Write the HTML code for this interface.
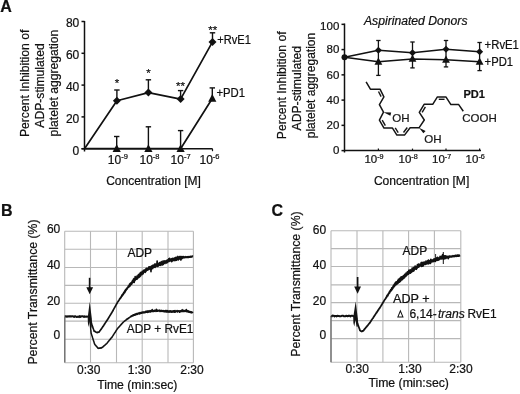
<!DOCTYPE html>
<html><head><meta charset="utf-8"><style>
html,body{margin:0;padding:0;background:#fff;}
svg{display:block;font-family:"Liberation Sans", sans-serif;filter:grayscale(1);}
svg text{stroke:#111;stroke-width:0.22px;}
</style></head><body>
<svg width="520" height="394" viewBox="0 0 520 394">
<text x="0.2" y="11.7" font-size="16" font-weight="bold" fill="#111">A</text>
<text x="1.0" y="215.8" font-size="16" font-weight="bold" fill="#111">B</text>
<text x="271.6" y="215.6" font-size="16" font-weight="bold" fill="#111">C</text>
<line x1="84.5" y1="21" x2="84.5" y2="151.5" stroke="#111" stroke-width="1.5"/>
<line x1="81.5" y1="148.7" x2="212.5" y2="148.7" stroke="#111" stroke-width="1.5"/>
<line x1="81.5" y1="148.7" x2="84.5" y2="148.7" stroke="#111" stroke-width="1.5"/>
<text x="79.3" y="154.5" font-size="12" text-anchor="end" fill="#111">0</text>
<line x1="81.5" y1="116.89" x2="84.5" y2="116.89" stroke="#111" stroke-width="1.5"/>
<text x="79.3" y="122.69" font-size="12" text-anchor="end" fill="#111">20</text>
<line x1="81.5" y1="85.1" x2="84.5" y2="85.1" stroke="#111" stroke-width="1.5"/>
<text x="79.3" y="90.89" font-size="12" text-anchor="end" fill="#111">40</text>
<line x1="81.5" y1="53.29" x2="84.5" y2="53.29" stroke="#111" stroke-width="1.5"/>
<text x="79.3" y="59.09" font-size="12" text-anchor="end" fill="#111">60</text>
<line x1="81.5" y1="21.49" x2="84.5" y2="21.49" stroke="#111" stroke-width="1.5"/>
<text x="79.3" y="27.29" font-size="12" text-anchor="end" fill="#111">80</text>
<line x1="116.7" y1="148.7" x2="116.7" y2="151.2" stroke="#111" stroke-width="1.2"/>
<line x1="148.4" y1="148.7" x2="148.4" y2="151.2" stroke="#111" stroke-width="1.2"/>
<line x1="180.6" y1="148.7" x2="180.6" y2="151.2" stroke="#111" stroke-width="1.2"/>
<line x1="212.5" y1="148.7" x2="212.5" y2="151.2" stroke="#111" stroke-width="1.2"/>
<text x="107.8" y="164.0" font-size="12" fill="#111">10<tspan font-size="7.5" dy="-4.8">-9</tspan></text>
<text x="139.5" y="164.0" font-size="12" fill="#111">10<tspan font-size="7.5" dy="-4.8">-8</tspan></text>
<text x="170.6" y="164.0" font-size="12" fill="#111">10<tspan font-size="7.5" dy="-4.8">-7</tspan></text>
<text x="199.5" y="164.0" font-size="12" fill="#111">10<tspan font-size="7.5" dy="-4.8">-6</tspan></text>
<text x="153.5" y="184.9" font-size="12" text-anchor="middle" fill="#111">Concentration [M]</text>
<text x="0" y="0" font-size="12" text-anchor="middle" textLength="107.4" lengthAdjust="spacingAndGlyphs" fill="#111" transform="translate(29,83.4) rotate(-90)">Percent Inhibition of</text>
<text x="0" y="0" font-size="12" text-anchor="middle" textLength="84.4" lengthAdjust="spacingAndGlyphs" fill="#111" transform="translate(44.2,85.5) rotate(-90)">ADP-stimulated</text>
<text x="0" y="0" font-size="12" text-anchor="middle" textLength="106.7" lengthAdjust="spacingAndGlyphs" fill="#111" transform="translate(57.5,83.05) rotate(-90)">platelet aggregation</text>
<polyline points="84.50,148.70 116.90,100.70 148.40,92.60 180.60,99.10 212.50,41.90" fill="none" stroke="#111" stroke-width="1.7" stroke-linejoin="round"/>
<line x1="116.9" y1="90" x2="116.9" y2="100.7" stroke="#111" stroke-width="1.4"/>
<line x1="114.2" y1="90" x2="119.60" y2="90" stroke="#111" stroke-width="1.4"/>
<line x1="148.4" y1="79.8" x2="148.4" y2="92.6" stroke="#111" stroke-width="1.4"/>
<line x1="145.70" y1="79.8" x2="151.1" y2="79.8" stroke="#111" stroke-width="1.4"/>
<line x1="180.6" y1="90.6" x2="180.6" y2="99.1" stroke="#111" stroke-width="1.4"/>
<line x1="177.9" y1="90.6" x2="183.29" y2="90.6" stroke="#111" stroke-width="1.4"/>
<line x1="212.5" y1="32.8" x2="212.5" y2="41.9" stroke="#111" stroke-width="1.4"/>
<line x1="209.8" y1="32.8" x2="215.2" y2="32.8" stroke="#111" stroke-width="1.4"/>
<polygon points="116.9,96.7 120.9,100.7 116.9,104.7 112.9,100.7" fill="#111"/>
<polygon points="148.4,88.6 152.4,92.6 148.4,96.6 144.4,92.6" fill="#111"/>
<polygon points="180.6,95.1 184.6,99.1 180.6,103.1 176.6,99.1" fill="#111"/>
<polygon points="212.5,37.9 216.5,41.9 212.5,45.9 208.5,41.9" fill="#111"/>
<polyline points="84.50,148.70 116.70,148.70 148.40,148.70 180.60,148.70 212.30,98.50" fill="none" stroke="#111" stroke-width="1.7" stroke-linejoin="round"/>
<line x1="116.7" y1="136.5" x2="116.7" y2="148.7" stroke="#111" stroke-width="1.4"/>
<line x1="114.0" y1="136.5" x2="119.4" y2="136.5" stroke="#111" stroke-width="1.4"/>
<line x1="148.4" y1="126.8" x2="148.4" y2="148.7" stroke="#111" stroke-width="1.4"/>
<line x1="145.70" y1="126.8" x2="151.1" y2="126.8" stroke="#111" stroke-width="1.4"/>
<line x1="180.6" y1="130.6" x2="180.6" y2="148.7" stroke="#111" stroke-width="1.4"/>
<line x1="177.9" y1="130.6" x2="183.29" y2="130.6" stroke="#111" stroke-width="1.4"/>
<line x1="212.3" y1="87.9" x2="212.3" y2="98.5" stroke="#111" stroke-width="1.4"/>
<line x1="209.60" y1="87.9" x2="215.0" y2="87.9" stroke="#111" stroke-width="1.4"/>
<polygon points="116.7,144.29 120.8,151.88 112.60,151.88" fill="#111"/>
<polygon points="148.4,144.29 152.5,151.88 144.3,151.88" fill="#111"/>
<polygon points="180.6,144.29 184.7,151.88 176.5,151.88" fill="#111"/>
<polygon points="212.3,94.10 216.4,101.68 208.20,101.68" fill="#111"/>
<text x="117.1" y="87.0" font-size="11.5" text-anchor="middle" fill="#111">*</text>
<text x="148.4" y="76.9" font-size="11.5" text-anchor="middle" fill="#111">*</text>
<text x="180.6" y="89.7" font-size="11.5" text-anchor="middle" fill="#111">**</text>
<text x="212.7" y="33.7" font-size="11.5" text-anchor="middle" fill="#111">**</text>
<text x="217.3" y="44.2" font-size="12" textLength="33.6" lengthAdjust="spacingAndGlyphs" fill="#111">+RvE1</text>
<text x="216.4" y="97.3" font-size="12" textLength="28.6" lengthAdjust="spacingAndGlyphs" fill="#111">+PD1</text>
<line x1="344.5" y1="23.5" x2="344.5" y2="152.5" stroke="#111" stroke-width="1.5"/>
<line x1="344.5" y1="150.6" x2="481" y2="150.6" stroke="#111" stroke-width="1.5"/>
<line x1="341.5" y1="150.6" x2="344.5" y2="150.6" stroke="#111" stroke-width="1.5"/>
<text x="339.3" y="154.29" font-size="11.5" text-anchor="end" fill="#111">0</text>
<line x1="341.5" y1="125.35" x2="344.5" y2="125.35" stroke="#111" stroke-width="1.5"/>
<text x="339.3" y="129.04" font-size="11.5" text-anchor="end" fill="#111">20</text>
<line x1="341.5" y1="100.1" x2="344.5" y2="100.1" stroke="#111" stroke-width="1.5"/>
<text x="339.3" y="103.8" font-size="11.5" text-anchor="end" fill="#111">40</text>
<line x1="341.5" y1="74.85" x2="344.5" y2="74.85" stroke="#111" stroke-width="1.5"/>
<text x="339.3" y="78.55" font-size="11.5" text-anchor="end" fill="#111">60</text>
<line x1="341.5" y1="49.59" x2="344.5" y2="49.59" stroke="#111" stroke-width="1.5"/>
<text x="339.3" y="53.3" font-size="11.5" text-anchor="end" fill="#111">80</text>
<line x1="341.5" y1="24.34" x2="344.5" y2="24.34" stroke="#111" stroke-width="1.5"/>
<text x="339.3" y="30.2" font-size="11.5" text-anchor="end" fill="#111">100</text>
<line x1="378.4" y1="148.6" x2="378.4" y2="150.6" stroke="#111" stroke-width="1.2"/>
<line x1="412.5" y1="148.6" x2="412.5" y2="150.6" stroke="#111" stroke-width="1.2"/>
<line x1="446.0" y1="148.6" x2="446.0" y2="150.6" stroke="#111" stroke-width="1.2"/>
<line x1="479.6" y1="148.6" x2="479.6" y2="150.6" stroke="#111" stroke-width="1.2"/>
<text x="364.4" y="163.3" font-size="11.5" fill="#111">10<tspan font-size="7.2" dy="-4.6">-9</tspan></text>
<text x="398.5" y="163.3" font-size="11.5" fill="#111">10<tspan font-size="7.2" dy="-4.6">-8</tspan></text>
<text x="432.0" y="163.3" font-size="11.5" fill="#111">10<tspan font-size="7.2" dy="-4.6">-7</tspan></text>
<text x="465.6" y="163.3" font-size="11.5" fill="#111">10<tspan font-size="7.2" dy="-4.6">-6</tspan></text>
<text x="421.6" y="184.8" font-size="12" text-anchor="middle" textLength="95.4" lengthAdjust="spacingAndGlyphs" fill="#111">Concentration [M]</text>
<text x="0" y="0" font-size="12" text-anchor="middle" textLength="108" lengthAdjust="spacingAndGlyphs" fill="#111" transform="translate(285.6,85.25) rotate(-90)">Percent Inhibition of</text>
<text x="0" y="0" font-size="12" text-anchor="middle" textLength="84.5" lengthAdjust="spacingAndGlyphs" fill="#111" transform="translate(300.6,88.15) rotate(-90)">ADP-stimulated</text>
<text x="0" y="0" font-size="12" text-anchor="middle" textLength="105.5" lengthAdjust="spacingAndGlyphs" fill="#111" transform="translate(315.4,85.55) rotate(-90)">platelet aggregation</text>
<text x="364.0" y="25.2" font-size="12" font-style="italic" textLength="103.5" lengthAdjust="spacingAndGlyphs" fill="#111">Aspirinated Donors</text>
<polyline points="344.50,57.30 378.40,50.20 412.50,52.70 446.00,49.20 479.60,51.70" fill="none" stroke="#111" stroke-width="1.5" stroke-linejoin="round"/>
<polyline points="344.50,57.30 378.40,61.80 412.50,58.90 446.00,59.80 479.60,61.80" fill="none" stroke="#111" stroke-width="1.5" stroke-linejoin="round"/>
<line x1="378.4" y1="40.5" x2="378.4" y2="75.4" stroke="#111" stroke-width="1.3"/>
<line x1="376.2" y1="40.5" x2="380.59" y2="40.5" stroke="#111" stroke-width="1.3"/>
<line x1="376.2" y1="75.4" x2="380.59" y2="75.4" stroke="#111" stroke-width="1.3"/>
<line x1="412.5" y1="42.0" x2="412.5" y2="67.9" stroke="#111" stroke-width="1.3"/>
<line x1="410.3" y1="42.0" x2="414.7" y2="42.0" stroke="#111" stroke-width="1.3"/>
<line x1="410.3" y1="67.9" x2="414.7" y2="67.9" stroke="#111" stroke-width="1.3"/>
<line x1="446" y1="40.5" x2="446" y2="66.9" stroke="#111" stroke-width="1.3"/>
<line x1="443.8" y1="40.5" x2="448.2" y2="40.5" stroke="#111" stroke-width="1.3"/>
<line x1="443.8" y1="66.9" x2="448.2" y2="66.9" stroke="#111" stroke-width="1.3"/>
<line x1="479.6" y1="42.5" x2="479.6" y2="70.6" stroke="#111" stroke-width="1.3"/>
<line x1="477.40" y1="42.5" x2="481.8" y2="42.5" stroke="#111" stroke-width="1.3"/>
<line x1="477.40" y1="70.6" x2="481.8" y2="70.6" stroke="#111" stroke-width="1.3"/>
<polygon points="378.4,46.7 381.9,50.2 378.4,53.7 374.9,50.2" fill="#111"/>
<polygon points="412.5,49.2 416.0,52.7 412.5,56.2 409.0,52.7" fill="#111"/>
<polygon points="446,45.7 449.5,49.2 446,52.7 442.5,49.2" fill="#111"/>
<polygon points="479.6,48.2 483.1,51.7 479.6,55.2 476.1,51.7" fill="#111"/>
<polygon points="378.4,57.5 382.29,64.71 374.5,64.71" fill="#111"/>
<polygon points="412.5,54.6 416.4,61.81 408.6,61.81" fill="#111"/>
<polygon points="446,55.5 449.9,62.71 442.1,62.71" fill="#111"/>
<polygon points="479.6,57.5 483.5,64.71 475.70,64.71" fill="#111"/>
<circle cx="344.5" cy="57.3" r="3" fill="#111"/>
<text x="484.6" y="49.1" font-size="12" textLength="34.3" lengthAdjust="spacingAndGlyphs" fill="#111">+RvE1</text>
<text x="484.6" y="65.7" font-size="12" textLength="28.4" lengthAdjust="spacingAndGlyphs" fill="#111">+PD1</text>
<polyline points="366.10,81.80 370.40,89.20 380.00,89.20 383.90,96.80 379.40,104.60 383.50,112.20 379.40,120.10 384.00,128.10 392.50,128.10 396.90,135.10 404.50,135.10 410.10,127.80 419.00,127.80 424.30,120.00 419.30,112.40 424.10,104.30 432.70,104.30 437.40,96.90 445.90,96.90 450.90,104.60 458.70,104.60 463.30,111.20" fill="none" stroke="#151515" stroke-width="1.5" stroke-linejoin="round"/>
<line x1="378.48" y1="91.51" x2="381.14" y2="96.67" stroke="#151515" stroke-width="1.4"/>
<line x1="382.21" y1="120.18" x2="385.34" y2="125.62" stroke="#151515" stroke-width="1.4"/>
<line x1="395.23" y1="127.94" x2="398.22" y2="132.70" stroke="#151515" stroke-width="1.4"/>
<line x1="403.49" y1="132.47" x2="407.29" y2="127.50" stroke="#151515" stroke-width="1.4"/>
<line x1="422.13" y1="112.32" x2="425.39" y2="106.81" stroke="#151515" stroke-width="1.4"/>
<line x1="438.76" y1="99.30" x2="444.53" y2="99.30" stroke="#151515" stroke-width="1.4"/>
<polygon points="383.5,112.2 391.2,112.6 390.4,115.8" fill="#111"/>
<polygon points="419,127.8 425.6,131.0 423.4,133.2" fill="#111"/>
<text x="392.3" y="121.6" font-size="11.5" fill="#1a1a1a">OH</text>
<text x="424.3" y="143.0" font-size="11.5" fill="#1a1a1a">OH</text>
<text x="462.3" y="121.7" font-size="11.5" fill="#1a1a1a">COOH</text>
<text x="463.4" y="97.6" font-size="11.5" font-weight="bold" textLength="21.5" lengthAdjust="spacingAndGlyphs" fill="#111">PD1</text>
<line x1="64.7" y1="231.2" x2="64.7" y2="362.8" stroke="#b8b8b8" stroke-width="1.1"/>
<line x1="90.5" y1="231.2" x2="90.5" y2="362.8" stroke="#b8b8b8" stroke-width="1.1"/>
<line x1="116.5" y1="231.2" x2="116.5" y2="362.8" stroke="#b8b8b8" stroke-width="1.1"/>
<line x1="142.2" y1="231.2" x2="142.2" y2="362.8" stroke="#b8b8b8" stroke-width="1.1"/>
<line x1="168" y1="231.2" x2="168" y2="362.8" stroke="#b8b8b8" stroke-width="1.1"/>
<line x1="193.4" y1="231.2" x2="193.4" y2="362.8" stroke="#b8b8b8" stroke-width="1.1"/>
<line x1="64.7" y1="231.2" x2="193.4" y2="231.2" stroke="#b8b8b8" stroke-width="1.1"/>
<line x1="64.7" y1="249.2" x2="193.4" y2="249.2" stroke="#b8b8b8" stroke-width="1.1"/>
<line x1="64.7" y1="267.5" x2="193.4" y2="267.5" stroke="#b8b8b8" stroke-width="1.1"/>
<line x1="64.7" y1="285.4" x2="193.4" y2="285.4" stroke="#b8b8b8" stroke-width="1.1"/>
<line x1="64.7" y1="303.3" x2="193.4" y2="303.3" stroke="#b8b8b8" stroke-width="1.1"/>
<line x1="64.7" y1="321.1" x2="193.4" y2="321.1" stroke="#b8b8b8" stroke-width="1.1"/>
<line x1="64.7" y1="339.3" x2="193.4" y2="339.3" stroke="#b8b8b8" stroke-width="1.1"/>
<line x1="64.7" y1="362.8" x2="193.4" y2="362.8" stroke="#b8b8b8" stroke-width="1.1"/>
<line x1="331" y1="230.7" x2="331" y2="362.3" stroke="#b8b8b8" stroke-width="1.1"/>
<line x1="357" y1="230.7" x2="357" y2="362.3" stroke="#b8b8b8" stroke-width="1.1"/>
<line x1="382.9" y1="230.7" x2="382.9" y2="362.3" stroke="#b8b8b8" stroke-width="1.1"/>
<line x1="408.6" y1="230.7" x2="408.6" y2="362.3" stroke="#b8b8b8" stroke-width="1.1"/>
<line x1="434.4" y1="230.7" x2="434.4" y2="362.3" stroke="#b8b8b8" stroke-width="1.1"/>
<line x1="460.8" y1="230.7" x2="460.8" y2="362.3" stroke="#b8b8b8" stroke-width="1.1"/>
<line x1="331" y1="230.7" x2="460.8" y2="230.7" stroke="#b8b8b8" stroke-width="1.1"/>
<line x1="331" y1="248.6" x2="460.8" y2="248.6" stroke="#b8b8b8" stroke-width="1.1"/>
<line x1="331" y1="266.5" x2="460.8" y2="266.5" stroke="#b8b8b8" stroke-width="1.1"/>
<line x1="331" y1="284.9" x2="460.8" y2="284.9" stroke="#b8b8b8" stroke-width="1.1"/>
<line x1="331" y1="302.6" x2="460.8" y2="302.6" stroke="#b8b8b8" stroke-width="1.1"/>
<line x1="331" y1="320.6" x2="460.8" y2="320.6" stroke="#b8b8b8" stroke-width="1.1"/>
<line x1="331" y1="338.6" x2="460.8" y2="338.6" stroke="#b8b8b8" stroke-width="1.1"/>
<line x1="331" y1="362.3" x2="460.8" y2="362.3" stroke="#b8b8b8" stroke-width="1.1"/>
<polyline points="64.80,316.42 65.51,316.25 66.22,316.75 66.94,316.17 67.65,316.64 68.36,316.47 69.07,316.16 69.78,316.61 70.50,316.14 71.21,316.53 71.92,316.17 72.63,316.19 73.35,316.52 74.06,316.93 74.77,316.22 75.48,316.32 76.19,316.73 76.91,317.05 77.62,316.68 78.33,316.50 79.04,317.08 79.75,316.15 80.47,316.96 81.18,316.39 81.89,316.24 82.60,316.22 83.32,316.41 84.03,316.92 84.74,316.28 85.45,316.68 86.16,316.74 86.88,316.47 87.59,316.65 88.30,316.60" fill="none" stroke="#111" stroke-width="2.0" stroke-linejoin="round"/>
<line x1="64.8" y1="316.6" x2="64.8" y2="362.6" stroke="#6a6a6a" stroke-width="1.3"/>
<polygon points="87.7,317.5 89.7,301.8 91.8,318.5 91.6,327.6 90.6,327.6 89.6,321 88.6,327 87.9,323" fill="#151515"/>
<polyline points="89.60,316.09 89.71,316.31 89.82,316.99 89.93,317.08 90.04,317.81 90.15,317.90 90.26,318.70 90.37,318.71 90.48,319.49 90.59,319.68 90.70,320.41 90.81,320.27 90.92,321.23 91.03,321.28 91.14,322.01 91.25,322.12 91.36,322.87 91.47,322.90 91.58,323.75 91.69,323.78 91.80,324.65 91.94,324.68 92.08,325.62 92.21,325.44 92.35,326.10 92.49,326.19 92.62,326.92 92.76,326.97 92.90,327.75 93.04,327.77 93.17,328.63 93.31,328.65 93.45,329.43 93.59,329.50 93.72,330.12 93.86,330.24 94.00,331.07 94.40,330.91 94.80,331.49 95.20,331.38 95.60,332.01 96.00,332.00 96.40,332.55 96.80,332.39 97.24,332.62 97.68,332.17 98.12,332.33 98.56,332.02 99.00,332.19 99.29,331.53 99.57,331.56 99.86,330.66 100.14,330.62 100.43,330.01 100.71,329.87 101.00,329.15 101.24,329.21 101.47,328.60 101.71,328.46 101.95,327.76 102.19,327.87 102.42,327.17 102.66,327.00 102.90,326.32 103.14,326.41 103.38,325.72 103.61,325.71 103.85,324.94 104.09,324.91 104.33,324.19 104.56,324.30 104.80,323.53 105.04,323.54 105.28,322.85 105.51,322.79 105.75,322.12 105.99,322.12 106.23,321.36 106.46,321.39 106.70,320.79 106.93,320.64 107.16,319.92 107.38,319.94 107.61,319.20 107.84,319.23 108.07,318.46 108.30,318.45 108.52,317.71 108.75,317.77 108.98,317.04 109.21,317.05 109.44,316.33 109.66,316.17 109.89,315.48 110.12,315.54 110.35,314.76 110.58,314.75 110.80,314.13 111.03,314.02 111.26,313.22 111.49,313.32 111.72,312.60 111.94,312.47 112.17,311.79 112.40,311.75 112.61,310.99 112.82,311.00 113.02,310.24 113.23,310.33 113.44,309.55 113.65,309.42 113.86,308.73 114.06,308.81 114.27,308.06 114.48,308.01 114.69,307.30 114.90,307.30 115.10,306.54 115.31,306.46 115.52,305.80 115.73,305.79 115.94,305.06 116.14,305.00 116.35,304.26 116.56,304.25 116.77,303.46 116.98,303.56 117.18,302.83 117.39,302.82 117.60,302.10 117.83,302.00 118.07,301.38 118.30,301.36 118.54,300.51 118.77,300.70 119.01,299.95 119.24,300.10 119.48,299.00 119.71,299.30 119.95,298.29 120.18,298.60 120.42,297.71 120.65,297.89 120.89,297.10 121.12,297.66 121.36,296.26 121.59,296.61 121.83,295.25 122.06,296.14 122.30,294.44 122.53,295.39 122.77,294.17 123.00,294.79 123.25,293.39 123.50,294.15 123.76,292.42 124.01,292.99 124.26,291.85 124.51,292.86 124.77,290.88 125.02,292.16 125.27,290.11 125.52,291.15 125.78,289.32 126.03,290.33 126.28,289.09 126.53,289.68 126.79,288.40 127.04,289.12 127.29,287.61 127.54,288.34 127.80,287.12 128.05,287.53 128.30,285.94 128.58,287.29 128.86,285.67 129.13,286.64 129.41,284.31 129.69,286.10 129.97,283.47 130.24,285.82 130.52,283.13 130.80,284.71 131.08,282.98 131.36,284.52 131.63,282.28 131.91,284.04 132.19,281.04 132.47,282.74 132.74,280.60 133.02,282.37 133.30,279.31 133.61,281.91 133.92,278.66 134.24,282.33 134.55,278.77 134.86,280.76 135.17,276.48 135.48,279.89 135.79,277.50 136.11,278.98 136.42,277.13 136.73,279.11 137.04,275.95 137.35,279.01 137.66,275.83 137.98,277.40 138.29,274.79 138.60,277.77 138.93,274.22 139.26,277.14 139.59,273.77 139.92,276.57 140.25,272.74 140.58,276.05 140.91,272.33 141.24,274.24 141.57,272.20 141.90,274.77 142.23,271.26 142.56,274.03 142.89,271.62 143.22,273.61 143.55,270.35 143.88,272.13 144.21,270.23 144.54,271.89 144.87,269.77 145.20,272.37 145.61,269.04 146.02,271.51 146.44,268.26 146.85,270.21 147.26,268.32 147.68,270.08 148.09,268.21 148.50,269.58 148.91,266.83 149.32,269.21 149.74,266.75 150.15,268.57 150.56,266.72 150.98,271.60 151.39,265.96 151.80,268.96 152.21,265.84 152.62,268.55 153.04,265.02 153.45,267.58 153.86,265.28 154.28,267.19 154.69,264.10 155.10,267.36 155.51,263.97 155.92,266.52 156.32,264.08 156.73,266.05 157.14,260.93 157.55,266.35 157.96,263.80 158.37,266.03 158.78,263.29 159.18,265.32 159.59,262.61 160.00,265.10 160.42,263.07 160.83,265.35 161.25,261.52 161.67,264.24 162.08,262.24 162.50,264.89 162.92,261.05 163.33,264.51 163.75,261.11 164.17,262.99 164.58,260.93 165.00,263.50 165.42,261.18 165.83,262.48 166.25,260.47 166.67,263.03 167.08,260.29 167.50,262.12 167.92,259.80 168.33,261.63 168.75,258.78 169.17,261.41 169.58,258.35 170.00,261.00 170.42,259.36 170.83,260.71 171.25,258.91 171.67,261.61 172.08,258.48 172.50,260.88 172.92,258.37 173.33,260.32 173.75,258.45 174.17,260.60 174.58,258.11 175.00,259.85 175.42,257.59 175.83,260.52 176.25,257.26 176.67,260.16 177.08,257.22 177.50,259.00 177.92,256.42 178.33,259.98 178.75,257.26 179.17,258.80 179.58,256.64 180.00,259.23 180.42,256.52 180.83,260.05 181.25,256.51 181.67,258.95 182.08,256.95 182.50,258.13 182.92,256.59 183.33,257.81 183.75,256.67 184.17,257.74 184.58,257.00 185.00,257.68 185.43,256.64 185.87,257.52 186.30,256.80 186.73,257.52 187.17,256.82 187.60,257.43 188.03,256.64 188.47,257.46 188.90,256.66 189.33,257.17 189.77,256.51 190.20,257.22 190.63,256.43 191.07,256.97 191.50,256.34 191.93,257.08 192.37,255.96 192.80,256.50" fill="none" stroke="#111" stroke-width="1.6" stroke-linejoin="round"/>
<polyline points="89.80,318.11 89.84,318.35 89.89,319.24 89.93,319.36 89.97,320.25 90.02,320.42 90.06,321.14 90.10,321.27 90.15,322.25 90.19,322.37 90.23,323.24 90.28,323.42 90.32,324.14 90.36,324.37 90.41,325.08 90.45,325.36 90.49,326.10 90.54,326.39 90.58,327.22 90.62,327.35 90.67,328.16 90.71,328.26 90.75,329.14 90.80,329.42 90.84,330.22 90.88,330.32 90.93,331.09 90.97,331.38 91.01,332.23 91.06,332.38 91.10,333.18 91.26,333.29 91.41,334.25 91.57,334.27 91.73,335.15 91.88,335.38 92.04,336.11 92.20,336.20 92.35,337.05 92.51,337.26 92.67,338.02 92.82,338.20 92.98,339.11 93.13,339.25 93.29,340.02 93.45,340.28 93.60,341.07 93.76,341.16 93.92,342.02 94.07,342.09 94.23,343.07 94.39,343.23 94.54,343.97 94.70,344.15 95.05,344.85 95.40,344.91 95.75,345.72 96.10,345.80 96.45,346.43 96.80,346.56 97.15,347.21 97.50,347.38 97.85,348.13 98.20,348.17 98.71,348.48 99.23,348.04 99.74,348.28 100.26,347.92 100.77,348.16 101.29,347.64 101.80,347.93 102.21,347.34 102.62,347.28 103.03,346.61 103.43,346.55 103.84,345.84 104.25,345.79 104.66,345.17 105.07,345.14 105.47,344.54 105.88,344.48 106.29,343.71 106.70,343.73 107.02,343.10 107.33,342.92 107.65,342.25 107.97,342.11 108.28,341.46 108.60,341.32 108.92,340.64 109.23,340.57 109.55,339.81 109.87,339.83 110.18,339.11 110.50,339.12 110.82,338.36 111.13,338.32 111.45,337.45 111.77,337.51 112.08,336.66 112.40,336.73 112.68,335.90 112.96,335.87 113.23,335.02 113.51,334.93 113.79,334.21 114.07,334.14 114.34,333.31 114.62,333.28 114.90,332.50 115.18,332.41 115.46,331.65 115.73,331.44 116.01,330.68 116.29,330.54 116.57,329.89 116.84,329.79 117.12,329.03 117.40,328.84 117.74,328.18 118.07,328.07 118.41,327.34 118.74,327.37 119.08,326.74 119.41,326.54 119.75,325.89 120.08,325.82 120.42,325.13 120.75,325.13 121.09,324.23 121.42,324.37 121.76,323.69 122.09,323.64 122.43,322.95 122.76,322.77 123.10,322.15 123.51,322.13 123.92,321.57 124.32,321.41 124.73,320.79 125.14,320.76 125.55,320.20 125.96,320.14 126.37,319.40 126.78,319.65 127.18,318.72 127.59,319.07 128.00,318.25 128.44,318.51 128.88,317.66 129.32,317.79 129.75,317.14 130.19,317.28 130.63,316.38 131.07,316.81 131.51,315.72 131.95,316.27 132.38,315.26 132.82,316.04 133.26,314.77 133.70,315.40 134.18,314.50 134.66,315.12 135.14,313.92 135.62,315.03 136.10,313.80 136.58,314.39 137.06,313.36 137.54,314.35 138.02,313.23 138.50,313.66 139.00,312.91 139.50,314.02 140.00,312.45 140.50,313.56 141.00,312.56 141.50,313.31 142.00,311.91 142.50,312.99 143.00,311.91 143.50,312.87 144.00,311.84 144.50,312.82 145.00,311.75 145.50,312.57 146.00,311.13 146.50,312.20 147.00,311.13 147.50,312.39 148.00,310.67 148.50,312.13 149.00,310.94 149.53,311.87 150.05,310.60 150.58,312.03 151.11,310.62 151.63,311.53 152.16,309.50 152.69,311.61 153.21,310.63 153.74,311.54 154.27,310.23 154.79,311.17 155.32,310.33 155.85,311.49 156.37,309.16 156.90,311.36 157.41,310.10 157.92,311.19 158.43,310.38 158.93,311.01 159.44,310.07 159.95,311.56 160.46,310.42 160.97,311.38 161.47,310.33 161.98,311.57 162.49,310.58 163.00,311.26 163.53,310.65 164.06,311.90 164.59,310.68 165.11,311.62 165.64,310.42 166.17,311.92 166.70,310.46 167.23,312.10 167.76,310.62 168.29,312.11 168.81,311.03 169.34,312.14 169.87,310.76 170.40,311.87 170.91,310.77 171.42,312.29 171.93,311.24 172.44,312.12 172.95,310.77 173.45,312.04 173.96,310.67 174.47,312.17 174.98,310.58 175.49,312.14 176.00,310.92 176.52,311.55 177.04,310.51 177.56,311.97 178.08,310.77 178.60,311.48 179.12,310.76 179.64,312.23 180.16,310.68 180.68,311.74 181.20,310.59 181.72,311.56 182.24,309.61 182.76,311.45 183.28,310.21 183.80,311.57 184.32,310.59 184.84,311.35 185.36,310.33 185.88,311.56 186.40,309.44 186.92,311.85 187.44,310.71 187.96,311.96 188.48,310.86 189.00,312.31 189.50,311.42 190.00,312.36 190.50,311.54 191.00,312.77 191.50,311.79 192.00,312.85 192.50,312.29 193.00,312.80" fill="none" stroke="#111" stroke-width="1.5" stroke-linejoin="round"/>
<line x1="89.6" y1="277.8" x2="89.6" y2="290.5" stroke="#111" stroke-width="1.6"/>
<polygon points="86.3,287.3 93.1,287.3 89.7,294.3" fill="#111"/>
<text x="127.4" y="257.3" font-size="12" fill="#111">ADP</text>
<text x="126.8" y="333.2" font-size="12" textLength="66.6" lengthAdjust="spacingAndGlyphs" fill="#111">ADP + RvE1</text>
<text x="60.3" y="233.3" font-size="12" text-anchor="end" fill="#111">60</text>
<text x="60.3" y="268.9" font-size="12" text-anchor="end" fill="#111">40</text>
<text x="60.3" y="304.5" font-size="12" text-anchor="end" fill="#111">20</text>
<text x="60.3" y="339.3" font-size="12" text-anchor="end" fill="#111">0</text>
<text x="88.8" y="373.6" font-size="12" text-anchor="middle" fill="#111">0:30</text>
<text x="139.5" y="373.6" font-size="12" text-anchor="middle" fill="#111">1:30</text>
<text x="192" y="373.6" font-size="12" text-anchor="middle" fill="#111">2:30</text>
<text x="137.3" y="389.1" font-size="12" text-anchor="middle" textLength="80.2" lengthAdjust="spacingAndGlyphs" fill="#111">Time (min:sec)</text>
<text x="0" y="0" font-size="12" text-anchor="middle" textLength="145.2" lengthAdjust="spacingAndGlyphs" fill="#111" transform="translate(37,292.0) rotate(-90)">Percent Transmittance (%)</text>
<polyline points="331.00,315.59 331.72,316.39 332.44,315.53 333.16,315.71 333.88,315.76 334.59,316.40 335.31,316.00 336.03,315.88 336.75,316.38 337.47,315.73 338.19,315.96 338.91,316.03 339.62,316.25 340.34,316.25 341.06,316.15 341.78,315.85 342.50,315.83 343.22,315.66 343.94,316.34 344.66,316.16 345.38,316.24 346.09,315.67 346.81,315.94 347.53,316.27 348.25,316.08 348.97,315.63 349.69,315.96 350.41,316.39 351.12,315.74 351.84,315.69 352.56,315.80 353.28,316.20 354.00,316.00" fill="none" stroke="#111" stroke-width="2.0" stroke-linejoin="round"/>
<line x1="331" y1="316.4" x2="331" y2="362.3" stroke="#6a6a6a" stroke-width="1.3"/>
<polygon points="353.2,317.2 355.7,301.5 357.8,318.5 357.7,326.5 356.6,326.8 355.4,320 354.3,326.5 353.4,323" fill="#151515"/>
<polyline points="355.80,316.22 355.90,316.31 356.00,316.95 356.10,317.12 356.20,317.74 356.30,317.84 356.40,318.70 356.50,318.72 356.60,319.49 356.70,319.53 356.80,320.28 356.90,320.39 357.00,320.99 357.10,321.10 357.20,321.89 357.30,321.98 357.40,322.73 357.50,322.75 357.60,323.51 357.70,323.57 357.80,324.30 357.90,324.36 358.00,325.20 358.15,325.21 358.31,325.97 358.46,326.04 358.62,326.78 358.77,326.84 358.92,327.56 359.08,327.70 359.23,328.41 359.38,328.43 359.54,329.27 359.69,329.34 359.85,330.43 360.00,330.13 360.38,330.84 360.75,330.78 361.12,331.45 361.50,331.40 361.90,331.57 362.30,330.99 362.70,331.18 363.10,330.53 363.50,330.71 363.77,329.92 364.04,329.92 364.31,329.18 364.58,329.31 364.85,328.64 365.12,328.62 365.40,327.96 365.67,328.00 365.94,327.28 366.21,327.28 366.48,326.62 366.75,326.69 367.02,325.99 367.29,326.08 367.56,325.31 367.83,325.38 368.10,324.71 368.38,324.60 368.65,324.03 368.92,323.96 369.19,323.38 369.46,323.40 369.73,322.63 370.00,322.62 370.24,321.98 370.48,321.97 370.71,321.29 370.95,321.30 371.19,320.49 371.43,320.57 371.67,319.78 371.90,319.81 372.14,319.04 372.38,319.05 372.62,318.47 372.86,318.43 373.10,317.76 373.33,317.71 373.57,316.91 373.81,317.00 374.05,316.20 374.29,316.29 374.52,315.52 374.76,315.56 375.00,314.77 375.24,314.76 375.48,314.19 375.71,314.01 375.95,313.47 376.19,313.38 376.43,312.36 376.67,312.72 376.90,311.97 377.14,312.01 377.38,311.28 377.62,311.16 377.86,310.30 378.10,310.54 378.33,309.76 378.57,309.89 378.81,309.13 379.05,309.01 379.29,308.39 379.52,308.44 379.76,307.70 380.00,307.71 380.23,306.98 380.45,306.94 380.68,306.27 380.90,306.18 381.13,305.54 381.36,305.55 381.58,304.72 381.81,304.70 382.03,304.02 382.26,304.05 382.49,303.27 382.71,303.27 382.94,302.45 383.16,302.47 383.39,301.82 383.61,301.85 383.84,301.08 384.07,301.08 384.29,300.35 384.52,300.28 384.74,299.64 384.97,299.53 385.20,298.98 385.42,298.98 385.65,298.15 385.87,298.27 386.10,297.42 386.33,297.48 386.57,296.62 386.80,296.95 387.03,295.41 387.27,295.99 387.50,295.05 387.73,295.83 387.97,294.36 388.20,294.94 388.43,293.57 388.67,293.87 388.90,292.94 389.13,293.40 389.37,291.94 389.60,292.94 389.83,291.07 390.07,291.71 390.30,290.68 390.53,291.11 390.77,289.59 391.00,290.85 391.25,289.30 391.49,290.11 391.74,287.97 391.99,289.65 392.24,287.52 392.48,288.77 392.73,287.16 392.98,288.18 393.22,285.78 393.47,286.95 393.72,285.29 393.96,286.84 394.21,284.35 394.46,286.16 394.71,283.97 394.95,285.65 395.20,282.88 395.52,284.56 395.84,282.05 396.16,284.62 396.48,281.82 396.79,284.13 397.11,281.55 397.43,283.70 397.75,280.50 398.07,283.21 398.39,279.30 398.71,281.90 399.02,279.38 399.34,282.22 399.66,278.43 399.98,281.69 400.30,278.62 400.62,281.05 400.94,277.15 401.26,279.47 401.58,276.75 401.91,279.83 402.23,276.97 402.55,279.16 402.87,276.44 403.19,278.69 403.51,275.51 403.83,278.20 404.15,275.26 404.47,277.76 404.79,274.29 405.12,276.76 405.44,274.18 405.76,276.35 406.08,273.09 406.40,275.52 406.74,273.29 407.08,274.82 407.42,271.96 407.76,274.02 408.09,271.87 408.43,274.08 408.77,270.46 409.11,273.48 409.45,270.98 409.79,272.90 410.13,269.78 410.47,273.15 410.81,270.30 411.14,271.55 411.48,269.78 411.82,272.02 412.16,268.02 412.50,270.39 412.88,268.31 413.25,271.18 413.62,267.62 414.00,270.72 414.38,267.40 414.75,269.14 415.12,266.10 415.50,268.51 415.88,266.54 416.25,269.27 416.62,266.50 417.00,268.53 417.38,264.73 417.75,267.28 418.12,264.33 418.50,267.04 418.88,264.13 419.25,266.61 419.62,264.56 420.00,265.94 420.40,264.15 420.80,265.42 421.20,262.73 421.60,266.40 422.00,262.44 422.40,266.04 422.80,262.82 423.20,265.80 423.60,262.27 424.00,264.68 424.40,262.18 424.80,264.10 425.20,262.47 425.60,264.37 426.00,261.03 426.40,263.88 426.80,261.57 427.20,263.47 427.61,260.98 428.01,263.99 428.42,260.02 428.82,263.70 429.23,260.82 429.64,262.58 430.04,260.56 430.45,263.29 430.86,259.27 431.26,262.03 431.67,260.21 432.07,261.76 432.48,259.99 432.89,261.55 433.29,259.73 433.70,261.54 434.13,258.86 434.55,260.84 434.98,259.01 435.41,261.35 435.83,258.66 436.26,260.12 436.69,257.97 437.11,260.02 437.54,257.41 437.97,260.28 438.39,258.04 438.82,259.77 439.25,257.79 439.67,259.40 440.10,256.39 440.53,258.74 440.95,256.77 441.38,258.93 441.81,256.12 442.23,258.63 442.66,254.57 443.09,258.96 443.51,256.31 443.94,258.93 444.37,255.84 444.79,258.63 445.22,255.95 445.65,258.50 446.07,256.18 446.50,257.87 446.93,256.57 447.37,257.41 447.80,256.45 448.23,258.62 448.67,256.41 449.10,257.43 449.53,256.13 449.97,256.98 450.40,256.30 450.83,256.95 451.27,256.18 451.70,256.75 452.13,256.08 452.57,256.49 453.00,255.66 453.44,256.57 453.88,255.85 454.31,256.62 454.75,255.64 455.19,256.35 455.62,255.32 456.06,256.17 456.50,255.48 456.94,256.34 457.38,255.14 457.81,256.19 458.25,255.20 458.69,256.12 459.12,255.14 459.56,255.78 460.00,255.40" fill="none" stroke="#111" stroke-width="1.7" stroke-linejoin="round"/>
<line x1="443.3" y1="252" x2="443.3" y2="264" stroke="#111" stroke-width="1.0"/>
<line x1="435.6" y1="254" x2="435.6" y2="262" stroke="#111" stroke-width="0.9"/>
<line x1="357.6" y1="277" x2="357.6" y2="290.5" stroke="#111" stroke-width="1.7"/>
<polygon points="354.2,286.6 361.0,286.6 357.6,293.8" fill="#111"/>
<text x="402.6" y="255.4" font-size="12" fill="#111">ADP</text>
<text x="393.1" y="302.6" font-size="12" textLength="36.6" lengthAdjust="spacingAndGlyphs" fill="#111">ADP +</text>
<polygon points="400.4,310.9 402.9,316.9 397.9,316.9" fill="none" stroke="#111" stroke-width="1.05" stroke-linejoin="miter"/>
<text x="409.4" y="317.6" font-size="12" fill="#111">6,14-</text>
<text x="437.9" y="317.6" font-size="12" font-style="italic" textLength="26.9" lengthAdjust="spacingAndGlyphs" fill="#111">trans</text>
<text x="467.5" y="317.6" font-size="12" textLength="29.2" lengthAdjust="spacingAndGlyphs" fill="#111">RvE1</text>
<text x="326.2" y="233.6" font-size="12" text-anchor="end" fill="#111">60</text>
<text x="326.2" y="268.8" font-size="12" text-anchor="end" fill="#111">40</text>
<text x="326.2" y="304.8" font-size="12" text-anchor="end" fill="#111">20</text>
<text x="326.2" y="338.8" font-size="12" text-anchor="end" fill="#111">0</text>
<text x="357.2" y="373.3" font-size="12" text-anchor="middle" fill="#111">0:30</text>
<text x="410" y="373.3" font-size="12" text-anchor="middle" fill="#111">1:30</text>
<text x="461" y="373.3" font-size="12" text-anchor="middle" fill="#111">2:30</text>
<text x="408.65" y="386.8" font-size="12" text-anchor="middle" textLength="80.5" lengthAdjust="spacingAndGlyphs" fill="#111">Time (min:sec)</text>
<text x="0" y="0" font-size="12" text-anchor="middle" textLength="145.4" lengthAdjust="spacingAndGlyphs" fill="#111" transform="translate(300.3,284.0) rotate(-90)">Percent Transmittance (%)</text>
</svg>
</body></html>
